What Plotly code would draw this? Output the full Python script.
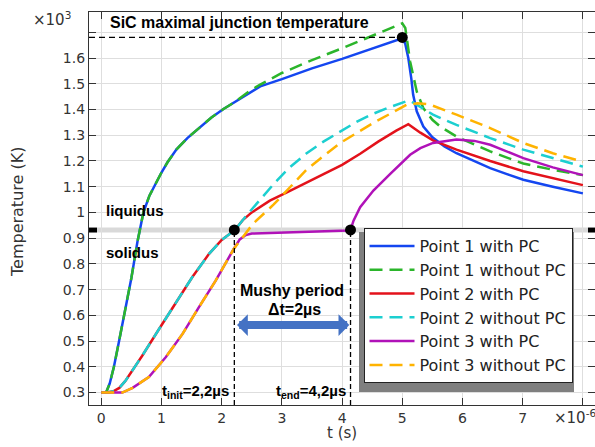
import plotly.graph_objects as go

# ---------------- data (t in microseconds, T in 10^3 K) ----------------
t1_pc = [0.0, 0.08, 0.14, 0.21, 0.30, 0.40, 0.50, 0.60, 0.70, 0.80, 0.90, 1.00, 1.10, 1.25, 1.43, 1.63,
         1.83, 2.03, 2.23, 2.45, 2.64, 3.00, 3.50, 4.00, 4.50, 5.00, 5.05, 5.10, 5.15, 5.18, 5.24, 5.35,
         5.50, 5.70, 5.90, 6.20, 6.46, 6.75, 7.01, 7.50, 8.00]
T1_pc = [0.300, 0.300, 0.335, 0.400, 0.505, 0.620, 0.745, 0.885, 1.000, 1.065, 1.112, 1.155, 1.195, 1.245,
         1.289, 1.330, 1.369, 1.402, 1.431, 1.465, 1.490, 1.518, 1.560, 1.597, 1.637, 1.677, 1.655, 1.600,
         1.520, 1.458, 1.393, 1.334, 1.292, 1.256, 1.230, 1.198, 1.172, 1.148, 1.127, 1.100, 1.074]

t1_npc = [0.0, 0.08, 0.14, 0.21, 0.30, 0.40, 0.50, 0.60, 0.70, 0.80, 0.90, 1.00, 1.10, 1.25, 1.43, 1.63,
          1.83, 2.03, 2.23, 2.45, 2.64, 3.00, 3.50, 4.00, 4.50, 5.00, 5.05, 5.13, 5.24, 5.35, 5.50, 5.63,
          5.90, 6.20, 6.46, 6.75, 7.01, 7.50, 8.00]
T1_npc = [0.300, 0.300, 0.335, 0.400, 0.505, 0.620, 0.745, 0.885, 1.000, 1.065, 1.112, 1.155, 1.195, 1.245,
          1.289, 1.330, 1.369, 1.402, 1.431, 1.470, 1.497, 1.542, 1.592, 1.638, 1.686, 1.735, 1.717, 1.587,
          1.470, 1.405, 1.360, 1.334, 1.295, 1.263, 1.237, 1.212, 1.190, 1.166, 1.145]

t2_pc = [0.0, 0.10, 0.20, 0.30, 0.40, 0.52, 0.68, 0.96, 1.24, 1.51, 1.79, 2.00, 2.22, 2.35, 2.50, 2.80,
         3.10, 3.40, 3.70, 4.00, 4.30, 4.60, 4.90, 5.10, 5.30, 5.51, 5.90, 6.20, 6.46, 7.01, 7.50, 8.00]
T2_pc = [0.300, 0.300, 0.305, 0.318, 0.345, 0.385, 0.443, 0.547, 0.650, 0.748, 0.839, 0.893, 0.932, 0.970,
         1.000, 1.046, 1.080, 1.115, 1.148, 1.185, 1.228, 1.275, 1.318, 1.343, 1.310, 1.280, 1.244, 1.220,
         1.200, 1.160, 1.132, 1.106]

t2_npc = [0.0, 0.10, 0.20, 0.30, 0.40, 0.52, 0.68, 0.96, 1.24, 1.51, 1.79, 2.00, 2.22, 2.40, 2.64, 2.90,
          3.13, 3.40, 3.69, 4.00, 4.24, 4.50, 4.80, 5.07, 5.13, 5.30, 5.51, 5.90, 6.20, 6.46, 7.01, 7.50, 8.00]
T2_npc = [0.300, 0.300, 0.305, 0.318, 0.345, 0.385, 0.443, 0.547, 0.650, 0.748, 0.839, 0.893, 0.932, 0.985,
          1.050, 1.120, 1.175, 1.228, 1.275, 1.320, 1.352, 1.382, 1.410, 1.432, 1.434, 1.410, 1.380, 1.340,
          1.313, 1.289, 1.244, 1.210, 1.178]

t3_pc = [0.0, 0.35, 0.52, 0.79, 1.07, 1.35, 1.62, 1.90, 2.20, 2.30, 2.40, 2.50, 2.80, 3.35, 3.80, 4.10,
         4.14, 4.16, 4.19, 4.30, 4.52, 4.80, 5.13, 5.30, 5.51, 5.90, 6.20, 6.46, 7.01, 7.50, 8.00]
T3_pc = [0.300, 0.300, 0.318, 0.360, 0.437, 0.528, 0.631, 0.735, 0.858, 0.895, 0.912, 0.918, 0.920, 0.923,
         0.927, 0.930, 0.932, 0.950, 0.968, 1.020, 1.085, 1.150, 1.224, 1.250, 1.270, 1.283, 1.278, 1.263,
         1.211, 1.175, 1.145]

t3_npc = [0.0, 0.35, 0.52, 0.79, 1.07, 1.35, 1.62, 1.90, 2.20, 2.52, 2.86, 3.08, 3.41, 3.63, 3.97, 4.52,
          5.07, 5.25, 5.45, 5.90, 6.46, 7.01, 7.50, 8.00]
T3_npc = [0.300, 0.300, 0.318, 0.360, 0.437, 0.528, 0.631, 0.735, 0.858, 0.956, 1.030, 1.085, 1.166, 1.208,
          1.270, 1.348, 1.418, 1.424, 1.420, 1.380, 1.328, 1.270, 1.230, 1.197]

series_names = ["Point 1 with PC", "Point 1 without PC", "Point 2 with PC",
                "Point 2 without PC", "Point 3 with PC", "Point 3 without PC"]

# key points
liquidus_T = 0.932
sic_max_T = 1.68
t_peak = 5.0
t_init = 2.21
t_end = 4.14
key_t = [t_peak, t_init, t_end]
key_T = [sic_max_T, liquidus_T, liquidus_T]

x_ticks = [0, 1, 2, 3, 4, 5, 6, 7, 8]
x_ticktext = ["0", "1", "2", "3", "4", "5", "6", "7", ""]
y_ticks = [0.3, 0.4, 0.5, 0.6, 0.7, 0.8, 0.9, 1.0, 1.1, 1.2, 1.3, 1.4, 1.5, 1.6, 1.7]
y_ticktext = ["0.3", "0.4", "0.5", "0.6", "0.7", "0.8", "0.9", "1", "1.1", "1.2", "1.3", "1.4",
              "1.5", "1.6", ""]

# ---------------- layout geometry ----------------
W, H = 595, 447
ML, MR, MT, MB = 89, 0, 12, 42
PW, PH = W - ML - MR, H - MT - MB
XR = [-0.204, 8.201]
YR = [0.2515, 1.779]


def px(xp):
    return (xp - ML) / PW


def py(yp):
    return (H - MB - yp) / PH


colors = ["#1446f0", "#2bb52b", "#e3121b", "#1ccfd0", "#b012b8", "#ffb300"]
dash = "13px,7px"

fig = go.Figure()
data = [(t1_pc, T1_pc), (t1_npc, T1_npc), (t2_pc, T2_pc), (t2_npc, T2_npc), (t3_pc, T3_pc), (t3_npc, T3_npc)]
for i, (tt, TT) in enumerate(data):
    fig.add_trace(go.Scatter(
        x=tt, y=TT, mode="lines", name=series_names[i],
        line=dict(color=colors[i], width=2.5, dash=("solid" if i % 2 == 0 else dash)),
    ))

fig.add_trace(go.Scatter(x=key_t, y=key_T, mode="markers", showlegend=False,
                         marker=dict(color="black", size=11)))

shapes = [
    # liquidus/solidus band
    dict(type="line", xref="paper", yref="y", x0=0, x1=1, y0=liquidus_T, y1=liquidus_T,
         line=dict(color="#d9d9d9", width=5), layer="below"),
    dict(type="rect", xref="paper", yref="y", x0=0, x1=px(97), y0=liquidus_T - 0.01, y1=liquidus_T + 0.009,
         line=dict(width=0), fillcolor="black", layer="above"),
    dict(type="rect", xref="paper", yref="y", x0=px(588), x1=1, y0=liquidus_T - 0.01, y1=liquidus_T + 0.009,
         line=dict(width=0), fillcolor="black", layer="above"),
    # SiC maximal junction temperature line
    dict(type="line", xref="x", yref="y", x0=XR[0], x1=t_peak, y0=sic_max_T, y1=sic_max_T,
         line=dict(color="black", width=1.2, dash="6px,4px"), layer="above"),
    # t_init and t_end verticals
    dict(type="line", xref="x", yref="y", x0=t_init, x1=t_init, y0=YR[0], y1=liquidus_T,
         line=dict(color="black", width=1.3, dash="5px,3px"), layer="above"),
    dict(type="line", xref="x", yref="y", x0=t_end, x1=t_end, y0=YR[0], y1=liquidus_T,
         line=dict(color="black", width=1.3, dash="5px,3px"), layer="above"),
    # legend shadow
    dict(type="rect", xref="paper", yref="paper", x0=px(359), x1=px(574), y0=py(392), y1=py(232),
         line=dict(width=0), fillcolor="#7f7f7f", layer="above"),
]

bold = dict(family="Liberation Sans, Arial, sans-serif", size=15, color="black")
tickfont = dict(family="DejaVu Sans, sans-serif", size=14, color="#333333")

annotations = [
    dict(text="<b>SiC maximal junction temperature</b>", x=px(108), y=py(22), xref="paper", yref="paper",
         xanchor="left", yanchor="middle", showarrow=False, font=dict(bold, size=16)),
    dict(text="<b>liquidus</b>", x=px(104), y=py(211), xref="paper", yref="paper",
         xanchor="left", yanchor="middle", showarrow=False, font=bold),
    dict(text="<b>solidus</b>", x=px(104), y=py(252), xref="paper", yref="paper",
         xanchor="left", yanchor="middle", showarrow=False, font=bold),
    dict(text="<b>Mushy period</b>", x=px(292), y=py(290), xref="paper", yref="paper",
         xanchor="center", yanchor="middle", showarrow=False, font=dict(bold, size=16)),
    dict(text="<b>Δt=2µs</b>", x=px(294), y=py(309), xref="paper", yref="paper",
         xanchor="center", yanchor="middle", showarrow=False, font=dict(bold, size=16)),
    dict(text="<b>t<sub>init</sub>=2,2µs</b>", x=px(231), y=py(391), xref="paper", yref="paper",
         xanchor="right", yanchor="middle", showarrow=False, font=bold),
    dict(text="<b>t<sub>end</sub>=4,2µs</b>", x=px(348), y=py(391), xref="paper", yref="paper",
         xanchor="right", yanchor="middle", showarrow=False, font=bold),
    dict(text="", x=t_end - 0.02, y=0.562, ax=t_init + 0.02, ay=0.562, axref="x", ayref="y",
         xref="x", yref="y", showarrow=True, arrowside="end+start", arrowhead=1, startarrowhead=1,
         arrowwidth=8, arrowsize=0.45, startarrowsize=0.45, arrowcolor="#4472c4"),
    dict(text="×10<sup>3</sup>", x=px(31), y=py(19), xref="paper", yref="paper",
         xanchor="left", yanchor="middle", showarrow=False, font=dict(tickfont, size=15)),
    dict(text="×10<sup>-6</sup>", x=px(552), y=py(417), xref="paper", yref="paper",
         xanchor="left", yanchor="middle", showarrow=False, font=dict(tickfont, size=15)),
    dict(text="t (s)", x=px(342), y=py(433), xref="paper", yref="paper",
         xanchor="center", yanchor="middle", showarrow=False, font=dict(tickfont, size=15)),
    dict(text="Temperature (K)", x=px(17), y=py(212), xref="paper", yref="paper", textangle=-90,
         xanchor="center", yanchor="middle", showarrow=False, font=dict(tickfont, size=16)),
]

axis_common = dict(showgrid=True, gridcolor="#dedede", gridwidth=1, showline=True, linecolor="#333333",
                   linewidth=1.2, mirror="ticks", ticks="inside", ticklen=7, tickcolor="#333333",
                   tickwidth=1, zeroline=False, tickfont=tickfont)

fig.update_layout(
    width=W, height=H, margin=dict(l=ML, r=MR, t=MT, b=MB),
    paper_bgcolor="white", plot_bgcolor="white",
    xaxis=dict(axis_common, range=XR, tickvals=x_ticks, ticktext=x_ticktext),
    yaxis=dict(axis_common, range=YR, tickvals=y_ticks, ticktext=y_ticktext),
    shapes=shapes, annotations=annotations,
    legend=dict(x=px(363.5), y=py(228), xanchor="left", yanchor="top", bgcolor="white",
                bordercolor="#222222", borderwidth=1, itemwidth=45,
                font=dict(family="DejaVu Sans, sans-serif", size=16, color="#222222")),
    showlegend=True,
)

fig.write_html("out.html", config={"displayModeBar": False},
               post_script="document.body.style.margin='0px';")
